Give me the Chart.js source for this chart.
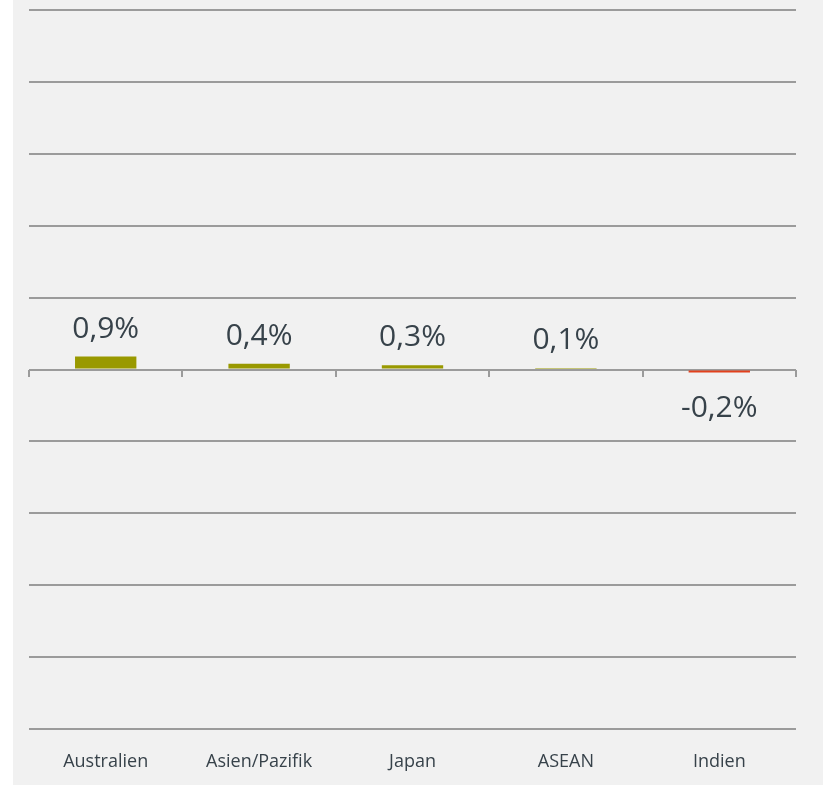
<!DOCTYPE html>
<html>
<head>
<meta charset="utf-8">
<script src="https://cdn.jsdelivr.net/npm/chart.js@4.4.1/dist/chart.umd.min.js"></script>
<style>
  html, body { margin: 0; padding: 0; background: #ffffff; }
  #wrap { position: absolute; left: 13px; top: 0; width: 810px; height: 785px; background: #f1f1f1; }
  canvas { display: block; }
</style>
</head>
<body>
<div id="wrap"><canvas id="c" width="810" height="785"></canvas></div>
<script>
const categories = ["Australien", "Asien/Pazifik", "Japan", "ASEAN", "Indien"];
const values = [0.9, 0.4, 0.3, 0.1, -0.2];
const yTicks = { min: -25, max: 25, step: 5 };

const POS = "#999900";
const NEG = "#e2401c";
const GRID = "#9b9b9b";
const TEXT = "#37424a";
const FONT = "'Open Sans', 'Noto Sans', sans-serif";

const valueLabels = {
  id: "valueLabels",
  afterDatasetsDraw(chart) {
    const ctx = chart.ctx;
    const meta = chart.getDatasetMeta(0);
    ctx.save();
    ctx.font = "30px " + FONT;
    ctx.fillStyle = TEXT;
    ctx.textAlign = "center";
    ctx.textBaseline = "alphabetic";
    meta.data.forEach((el, i) => {
      const v = values[i];
      const txt = v.toFixed(1).replace(".", ",") + "%";
      const y = v >= 0 ? el.y - 19 : el.y + 45;
      ctx.fillText(txt, el.x, y);
    });
    ctx.restore();
  }
};

new Chart(document.getElementById("c"), {
  type: "bar",
  data: {
    labels: categories,
    datasets: [{
      data: values,
      backgroundColor: values.map(v => v >= 0 ? POS : NEG),
      borderWidth: 0,
      barPercentage: 0.4,
      categoryPercentage: 1.0
    }]
  },
  options: {
    responsive: false,
    animation: false,
    layout: { padding: { left: 16, right: 27, top: 10, bottom: 0 } },
    plugins: { legend: { display: false }, tooltip: { enabled: false } },
    scales: {
      x: {
        position: "bottom",
        grid: { display: false },
        border: { display: false },
        ticks: { color: TEXT, font: { family: FONT, size: 18 }, padding: 14, maxRotation: 0 },
        afterFit(scale) { scale.height = 56; }
      },
      x2: {
        type: "category",
        position: { y: 0 },
        axis: "x",
        grid: { display: true, drawOnChartArea: false, drawTicks: true, tickLength: 7, color: GRID, lineWidth: 2, offset: true },
        border: { display: false },
        ticks: { display: false },
        afterFit(scale) { scale.height = 0; }
      },
      y: {
        min: yTicks.min,
        max: yTicks.max,
        ticks: { display: false, stepSize: yTicks.step },
        grid: { color: GRID, lineWidth: 2, drawTicks: false },
        border: { display: false }
      }
    }
  },
  plugins: [valueLabels]
});
</script>
</body>
</html>
